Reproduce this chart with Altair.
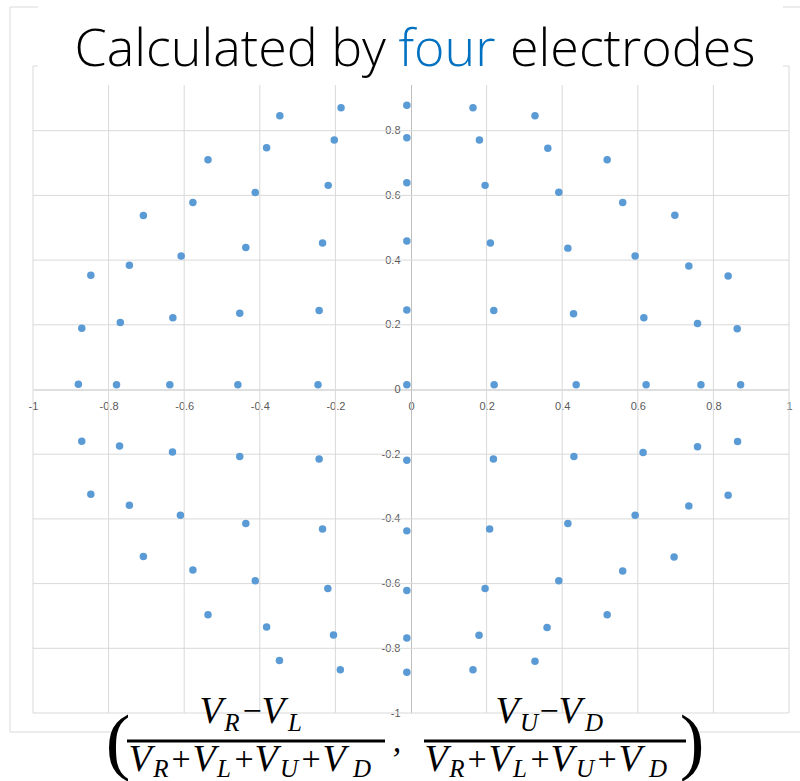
import altair as alt
import pandas as pd

# ---- measured positions (normalised differential signals) ----
# centre column (x close to 0)
center_x = [-0.011] * 11
center_y = [0.879, 0.778, 0.639, 0.459, 0.246, 0.015, -0.219, -0.437, -0.621, -0.768, -0.874]

# right half, row by row from top to bottom
right_x = [0.164, 0.328,
           0.181, 0.362, 0.519,
           0.196, 0.391, 0.560, 0.698,
           0.210, 0.415, 0.593, 0.735, 0.839,
           0.219, 0.430, 0.616, 0.758, 0.863,
           0.220, 0.437, 0.622, 0.767, 0.872,
           0.218, 0.431, 0.614, 0.758, 0.864,
           0.208, 0.415, 0.593, 0.735, 0.839,
           0.196, 0.391, 0.560, 0.696,
           0.180, 0.360, 0.519,
           0.164, 0.328]
right_y = [0.871, 0.846,
           0.771, 0.746, 0.710,
           0.631, 0.610, 0.578, 0.539,
           0.453, 0.437, 0.413, 0.382, 0.351,
           0.244, 0.234, 0.222, 0.204, 0.188,
           0.015, 0.015, 0.015, 0.015, 0.015,
           -0.215, -0.207, -0.195, -0.177, -0.161,
           -0.431, -0.414, -0.389, -0.360, -0.327,
           -0.615, -0.591, -0.561, -0.518,
           -0.760, -0.736, -0.696,
           -0.866, -0.840]

# left half, row by row from top to bottom
left_x = [-0.185, -0.347,
          -0.203, -0.382, -0.537,
          -0.219, -0.412, -0.577, -0.708,
          -0.234, -0.437, -0.608, -0.745, -0.847,
          -0.243, -0.453, -0.630, -0.769, -0.871,
          -0.246, -0.458, -0.638, -0.779, -0.880,
          -0.243, -0.453, -0.631, -0.771, -0.871,
          -0.234, -0.437, -0.610, -0.745, -0.847,
          -0.220, -0.412, -0.577, -0.708,
          -0.205, -0.382, -0.537,
          -0.187, -0.348]
left_y = [0.871, 0.846,
          0.771, 0.747, 0.710,
          0.631, 0.609, 0.578, 0.538,
          0.453, 0.439, 0.413, 0.384, 0.353,
          0.244, 0.236, 0.222, 0.207, 0.189,
          0.015, 0.015, 0.015, 0.015, 0.016,
          -0.215, -0.207, -0.193, -0.175, -0.160,
          -0.431, -0.414, -0.389, -0.358, -0.324,
          -0.615, -0.591, -0.558, -0.516,
          -0.759, -0.734, -0.696,
          -0.866, -0.838]

tick_values = [-1, -0.8, -0.6, -0.4, -0.2, 0, 0.2, 0.4, 0.6, 0.8, 1]

points = pd.DataFrame({
    "x": center_x + right_x + left_x,
    "y": center_y + right_y + left_y,
})
grid = pd.DataFrame({"t": [t for t in tick_values if t != 0]})
one = pd.DataFrame({"a": [0]})

# ---- layout ----
W, H = 756, 647          # plot area
OX, OY = 33, 66          # plot area origin on the page

xs = alt.Scale(domain=[-1, 1], nice=False, zero=False)
ys = alt.Scale(domain=[-1, 1], nice=False, zero=False)
fmt = "toString(round(datum.value * 10) / 10)"

axis_style = dict(values=tick_values, grid=False, ticks=False, title=None,
                  domainColor="#bfbfbf", domainWidth=1,
                  labelColor="#595959", labelFont="Liberation Sans", labelFontSize=11,
                  labelPadding=11, labelFlush=False, labelOverlap=False)
# axes cross at the origin; the top "1" of the vertical axis sits under the title
x_axis = alt.Axis(offset=-(H / 2), labelExpr=fmt, **axis_style)
y_axis = alt.Axis(offset=-(W / 2), labelExpr=f"datum.value == 1 ? '' : {fmt}", **axis_style)

GRID = "#d9d9d9"

vgrid = alt.Chart(grid).mark_rule(color=GRID, strokeWidth=1).encode(
    x=alt.X("t:Q", scale=xs, axis=x_axis))
hgrid = alt.Chart(grid).mark_rule(color=GRID, strokeWidth=1).encode(
    y=alt.Y("t:Q", scale=ys, axis=y_axis))

dots = alt.Chart(points).mark_point(filled=True, opacity=1, color="#5b9bd5", size=56).encode(
    x=alt.X("x:Q", scale=xs, axis=x_axis),
    y=alt.Y("y:Q", scale=ys, axis=y_axis),
)


def px(v):
    return alt.value(v - OX)


def py(v):
    return alt.value(v - OY)


def hline(x1, x2, y, color=GRID, width=1):
    return alt.Chart(one).mark_rule(color=color, strokeWidth=width).encode(
        x=px(x1), x2=px(x2), y=py(y))


def vline(x, y1, y2, color=GRID, width=1):
    return alt.Chart(one).mark_rule(color=color, strokeWidth=width).encode(
        x=px(x), y=py(y1), y2=py(y2))


def box(x1, x2, y1, y2):
    return alt.Chart(one).mark_rect(color="white").encode(
        x=px(x1), x2=px(x2), y=py(y1), y2=py(y2))


def txt(s, cx, base, size, italic=False, font="Liberation Serif", align="center",
        color="black", weight="normal"):
    return alt.Chart(one).mark_text(
        text=s, align=align, baseline="alphabetic", font=font, fontSize=size,
        fontStyle="italic" if italic else "normal", fontWeight=weight, color=color,
    ).encode(x=px(cx), y=py(base))


# outer frame
frame = [vline(10, 7, 732), hline(10, 800, 7), hline(10, 800, 732)]

# title
TITLE_FONT = "Open Sans"
TS = 52
title = [
    box(38, 783, 0, 85),
    txt("Calculated by", 386, 66, TS, font=TITLE_FONT, align="right", weight=300),
    txt("four", 447, 66, TS, font=TITLE_FONT, color="#0070c0", weight=300),
    txt("electrodes", 510, 66, TS, font=TITLE_FONT, align="left", weight=300),
]

# formula below the plot
MAIN, SUB, OP = 38, 25, 34
NB, NS = 723, 731      # numerator baselines (letter, subscript)
DB, DS = 771, 777      # denominator baselines


def row(items, base, sub_base):
    out = []
    for kind, s, cx in items:
        if kind == "v":
            out.append(txt(s, cx, base, MAIN, italic=True))
        elif kind == "s":
            out.append(txt(s, cx, sub_base, SUB, italic=True))
        else:
            out.append(txt(s, cx, base - 1, OP))
    return out


def denominator(shift):
    return [("v", "V", 140 + shift), ("s", "R", 161 + shift), ("o", "+", 181 + shift),
            ("v", "V", 204 + shift), ("s", "L", 224 + shift), ("o", "+", 244 + shift),
            ("v", "V", 266 + shift), ("s", "U", 289 + shift), ("o", "+", 311 + shift),
            ("v", "V", 334 + shift), ("s", "D", 362 + shift)]


formula = [box(113, 697, 722, 781)]
formula += row([("v", "V", 211), ("s", "R", 232), ("o", "−", 252),
                ("v", "V", 273), ("s", "L", 295)], NB, NS)
formula += row([("v", "V", 507), ("s", "U", 529), ("o", "−", 549),
                ("v", "V", 570), ("s", "D", 594)], NB, NS)
formula += row(denominator(0), DB, DS)
formula += row(denominator(296), DB, DS)
formula += [
    hline(127, 385, 741, color="black", width=3),
    hline(424, 686, 741, color="black", width=3),
    txt(",", 397, 752, 34, italic=True),
    txt("(", 118, 766, 74),
    txt(")", 692, 766, 74),
]

chart = alt.layer(*frame, vgrid, hgrid, dots, *title, *formula).properties(
    width=W, height=H,
    autosize=alt.AutoSizeParams(type="none"),
    padding={"left": OX, "top": OY, "right": 800 - OX - W, "bottom": 781 - OY - H},
    background="white",
).configure_view(strokeWidth=0)

chart.save("out.html", embed_options={"renderer": "svg", "actions": False})
